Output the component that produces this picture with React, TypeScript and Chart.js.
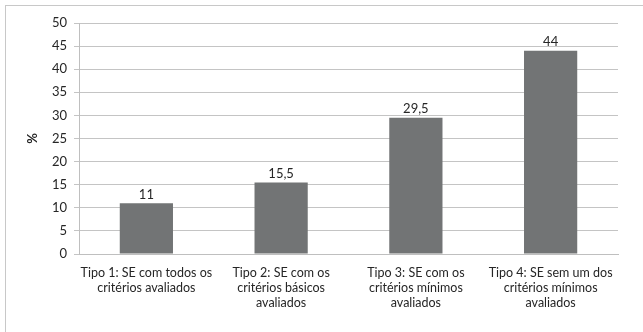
import React, { useEffect, useRef } from "react";
import { Chart, registerables } from "chart.js";

Chart.register(...registerables);

const categories: string[][] = [
  ["Tipo 1: SE com todos os", "critérios avaliados"],
  ["Tipo 2: SE com os", "critérios básicos", "avaliados"],
  ["Tipo 3: SE com os", "critérios mínimos", "avaliados"],
  ["Tipo 4: SE sem um dos", "critérios mínimos", "avaliados"],
];
const percentValues: number[] = [11, 15.5, 29.5, 44];
const valueLabels: string[] = ["11", "15,5", "29,5", "44"];
const yTicks: number[] = [0, 5, 10, 15, 20, 25, 30, 35, 40, 45, 50];
const yTitle = "%";

const FONT = "Lato, 'Open Sans', sans-serif";
const TEXT = "#262626";

// white background plus the thin outer frame of the chart box
const frame = {
  id: "frame",
  beforeDraw(chart: any) {
    const { ctx } = chart;
    ctx.save();
    ctx.fillStyle = "#ffffff";
    ctx.fillRect(0, 0, chart.width, chart.height);
    ctx.strokeStyle = "#c8c8c8";
    ctx.lineWidth = 1;
    ctx.strokeRect(5.5, 5.5, chart.width + 20, chart.height + 20);
    ctx.restore();
  },
};

// value above each bar and the rotated y-axis title
const annotations = {
  id: "annotations",
  afterDatasetsDraw(chart: any) {
    const { ctx, chartArea } = chart;
    const meta = chart.getDatasetMeta(0);
    ctx.save();
    ctx.fillStyle = TEXT;
    ctx.font = `13px ${FONT}`;
    ctx.textAlign = "center";
    ctx.textBaseline = "bottom";
    meta.data.forEach((bar: any, i: number) => {
      ctx.fillText(valueLabels[i], bar.x, bar.y - 2);
    });
    ctx.translate(33, (chartArea.top + chartArea.bottom) / 2);
    ctx.rotate(-Math.PI / 2);
    ctx.font = `bold 13px ${FONT}`;
    ctx.textBaseline = "middle";
    ctx.fillText(yTitle, 0, 0);
    ctx.restore();
  },
};

export default function App() {
  const ref = useRef<HTMLCanvasElement | null>(null);

  useEffect(() => {
    if (!ref.current) return;
    const chart = new Chart(ref.current, {
      type: "bar",
      data: {
        labels: categories,
        datasets: [
          {
            data: percentValues,
            backgroundColor: "#727475",
            borderWidth: 0,
            categoryPercentage: 1,
            barPercentage: 0.395,
          },
        ],
      },
      options: {
        animation: false,
        responsive: false,
        devicePixelRatio: 1,
        layout: { padding: { top: 23, right: 25, left: 0, bottom: 0 } },
        plugins: {
          legend: { display: false },
          tooltip: { enabled: false },
        },
        scales: {
          x: {
            grid: { display: false },
            border: { display: true, color: "#bfbfbf" },
            ticks: {
              color: TEXT,
              font: { family: FONT, size: 12.5, lineHeight: 1.17 },
              maxRotation: 0,
              autoSkip: false,
              padding: 4,
            },
            afterFit: (s: any) => {
              s.height = 78;
            },
          },
          y: {
            min: 0,
            max: 50,
            afterBuildTicks: (s: any) => {
              s.ticks = yTicks.map((v) => ({ value: v }));
            },
            grid: { color: "#c4c4c4", tickLength: 5 },
            border: { display: true, color: "#bfbfbf" },
            ticks: {
              color: TEXT,
              font: { family: FONT, size: 13 },
              padding: 7,
            },
            afterFit: (s: any) => {
              s.width = 79;
            },
          },
        },
      },
      plugins: [frame, annotations],
    });
    return () => chart.destroy();
  }, []);

  return (
    <div style={{ position: "fixed", left: 0, top: 0, width: 643, height: 332 }}>
      <canvas ref={ref} width={643} height={332} style={{ display: "block" }} />
    </div>
  );
}
